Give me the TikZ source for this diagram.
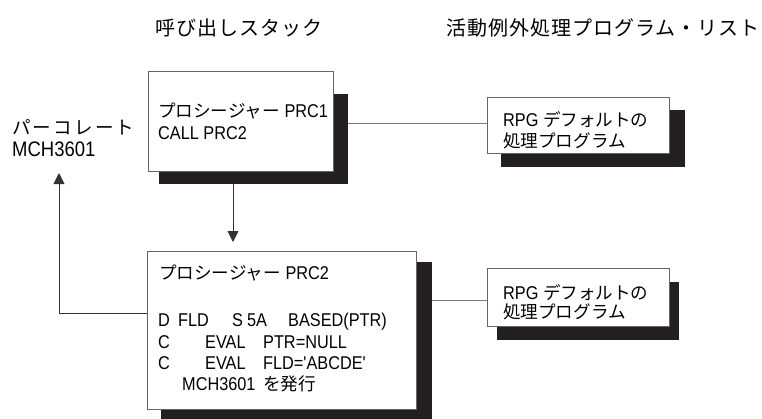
\documentclass[tikz,border=0pt]{standalone}
\usepackage{fontspec}
\setmainfont{Liberation Sans}[FakeStretch=0.88,Ligatures=TeXOff]
\newfontfamily\jp{Noto Sans CJK JP}[Scale=0.95]
\newfontfamily\jpt{Noto Sans CJK JP}[LetterSpace=5]
\newfontfamily\jpw{Noto Sans CJK JP}[LetterSpace=12]
\usetikzlibrary{arrows.meta}
\definecolor{shade}{HTML}{231F20}
\definecolor{edge}{HTML}{666666}
\definecolor{wire}{HTML}{7A7A7A}
\begin{document}
\begin{tikzpicture}[x=1pt,y=-1pt,
  shadowbox/.style={rectangle,fill=shade,draw=none,inner sep=0pt},
  mainbox/.style={rectangle,fill=white,draw=edge,line width=0.9pt,inner sep=0pt},
  txt/.style={anchor=base west,inner sep=0pt,font=\fontsize{18.5}{21}\selectfont},
  ttl/.style={anchor=base west,inner sep=0pt,font=\fontsize{20}{24}\selectfont\jpt},
  plain/.style={draw=wire,line width=0.9pt},
  arr/.style={draw=black!80,line width=0.9pt,-{Triangle[width=11pt,length=11pt]}}]
\useasboundingbox (0,0) rectangle (762,418);
% titles
\node[ttl] (ttlA) at (155,35) {呼び出しスタック};
\node[ttl] (ttlB) at (446,35) {活動例外処理プログラム・リスト};
% boxes and shadows
\node[shadowbox,minimum width=189pt,minimum height=90pt] (s1) at (253.5,139) {};
\node[mainbox,minimum width=185pt,minimum height=100pt] (p1) at (240.5,121) {};
\node[shadowbox,minimum width=184pt,minimum height=57pt] (sr1) at (593,138.5) {};
\node[mainbox,minimum width=182pt,minimum height=56pt] (r1) at (578,125) {};
\node[shadowbox,minimum width=271pt,minimum height=158pt] (s2) at (296.5,341) {};
\node[mainbox,minimum width=269pt,minimum height=158pt] (p2) at (281.5,330) {};
\node[shadowbox,minimum width=182pt,minimum height=58pt] (sr2) at (588,311) {};
\node[mainbox,minimum width=182pt,minimum height=58pt] (r2) at (578,297) {};
% box texts
\node[txt] (p1a) at (158,117) {{\jp プロシージャー} PRC1};
\node[txt] (p1b) at (158,139) {CALL PRC2};
\node[txt] (r1a) at (503,126) {RPG {\jp デフォルトの}};
\node[txt] (r1b) at (503,147) {\jp 処理プログラム};
\node[txt] (r2a) at (503,299) {RPG {\jp デフォルトの}};
\node[txt] (r2b) at (503,318) {\jp 処理プログラム};
\node[txt] (p2a) at (159,279) {{\jp プロシージャー} PRC2};
\node[txt] (p2b) at (158,326) {\makebox[20pt][l]{D}\makebox[54pt][l]{FLD}\makebox[15pt][l]{S}\makebox[41pt][l]{5A}BASED(PTR)};
\node[txt] (p2c) at (158,348) {\makebox[47pt][l]{C}\makebox[58pt][l]{EVAL}PTR=NULL};
\node[txt] (p2d) at (158,369) {\makebox[47pt][l]{C}\makebox[58pt][l]{EVAL}FLD='ABCDE'};
\node[txt] (p2e) at (182,390) {\makebox[81pt][l]{MCH3601}{\jp を発行}};
% percolate label
\node[txt] (pa) at (12,134) {\jpw パーコレート};
\node[txt,font=\fontsize{21}{24}\selectfont] (pb) at (12,156) {MCH3601};
% connectors
\coordinate (h1) at (0,123);
\coordinate (h2) at (0,300);
\coordinate (a1) at (233,242);
\coordinate (a2) at (59,173);
\coordinate (bend) at (59,313);
\draw[plain] (s1.east |- h1) -- (r1.west |- h1);
\draw[plain] (s2.east |- h2) -- (r2.west |- h2);
\draw[arr] (s1.south -| a1) -- (a1);
\draw[arr] (p2.west |- bend) -- (bend) -- (a2);
\end{tikzpicture}
\end{document}
